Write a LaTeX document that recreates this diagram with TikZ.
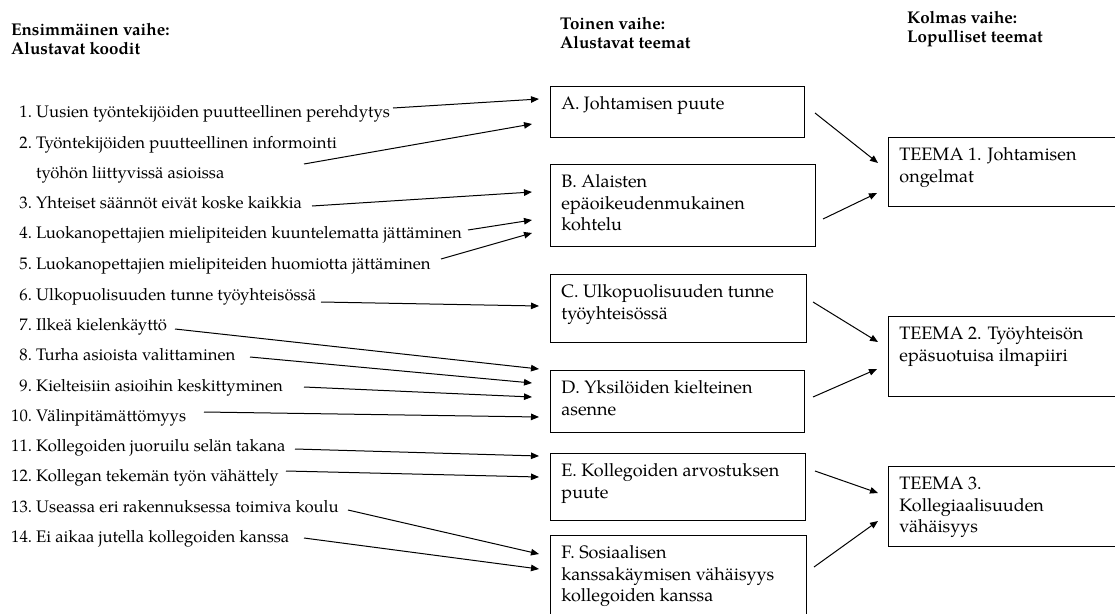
\documentclass[tikz,border=0pt]{standalone}
\usepackage{fontspec}
\setmainfont{TeX Gyre Pagella}
\usetikzlibrary{arrows.meta}
\newcommand\bxt[3]{\parbox[c][#2pt][t]{#1pt}{\raggedright\leftskip=11pt\rule{0pt}{23pt}#3}}
\begin{document}
\begin{tikzpicture}[x=1pt,y=-1pt,
  arr/.style={line width=1pt,-{Triangle[length=8pt,width=6.5pt]}},
  item/.style={anchor=base west,inner sep=0pt,font=\fontsize{16.7}{30}\selectfont},
  head/.style={anchor=base west,inner sep=0pt,font=\bfseries\fontsize{17}{19}\selectfont},
  tbox/.style={draw,line width=0.9pt,anchor=north west,inner sep=0pt,font=\fontsize{18}{21.7}\selectfont}]
\useasboundingbox (0,0) rectangle (1115,613);
\clip (0,0) rectangle (1115,613);
% headings
\node[head] (h1) at (11,35) {\parbox[t]{220pt}{Ensimmäinen vaihe:\\Alustavat koodit}};
\node[head] (h2) at (560,29) {\parbox[t]{220pt}{Toinen vaihe:\\Alustavat teemat}};
\node[head] (h3) at (907,23) {\parbox[t]{200pt}{Kolmas vaihe:\\Lopulliset teemat}};
% items
\node[item] (i1) at (36,117) {\llap{1.\ }Uusien työntekijöiden puutteellinen perehdytys};
\node[item] (i2) at (36,148) {\parbox[t]{400pt}{\fontsize{16.7}{30}\selectfont\leavevmode\llap{2.\ }Työntekijöiden puutteellinen informointi\\työhön liittyvissä asioissa}};
\node[item] (i3) at (36,208) {\llap{3.\ }Yhteiset säännöt eivät koske kaikkia};
\node[item] (i4) at (36,238) {\llap{4.\ }Luokanopettajien mielipiteiden kuuntelematta jättäminen};
\node[item] (i5) at (36,269) {\llap{5.\ }Luokanopettajien mielipiteiden huomiotta jättäminen};
\node[item] (i6) at (36,300) {\llap{6.\ }Ulkopuolisuuden tunne työyhteisössä};
\node[item] (i7) at (36,330) {\llap{7.\ }Ilkeä kielenkäyttö};
\node[item] (i8) at (36,360) {\llap{8.\ }Turha asioista valittaminen};
\node[item] (i9) at (36,391) {\llap{9.\ }Kielteisiin asioihin keskittyminen};
\node[item] (i10) at (36,421) {\llap{10.\ }Välinpitämättömyys};
\node[item] (i11) at (36,451) {\llap{11.\ }Kollegoiden juoruilu selän takana};
\node[item] (i12) at (36,481) {\llap{12.\ }Kollegan tekemän työn vähättely};
\node[item] (i13) at (36,512) {\llap{13.\ }Useassa eri rakennuksessa toimiva koulu};
\node[item] (i14) at (36,542) {\llap{14.\ }Ei aikaa jutella kollegoiden kanssa};
% middle boxes
\node[tbox] (A) at (550,86) {\bxt{254}{51}{A. Johtamisen puute}};
\node[tbox] (B) at (550,164) {\bxt{265}{82}{B. Alaisten\\epäoikeudenmukainen\\kohtelu}};
\node[tbox] (C) at (550,274) {\bxt{256}{68}{C. Ulkopuolisuuden tunne\\työyhteisössä}};
\node[tbox] (D) at (550,370) {\bxt{254}{62}{D. Yksilöiden kielteinen\\asenne}};
\node[tbox] (E) at (550,453) {\bxt{255}{67}{E. Kollegoiden arvostuksen\\puute}};
\node[tbox] (F) at (550,535) {\bxt{256}{100}{F. Sosiaalisen\\kanssakäymisen vähäisyys\\kollegoiden kanssa}};
% final boxes
\node[tbox] (T1) at (888,137) {\bxt{260}{69}{TEEMA 1. Johtamisen\\ongelmat}};
\node[tbox] (T2) at (888,316) {\bxt{260}{80}{TEEMA 2. Työyhteisön\\epäsuotuisa ilmapiiri}};
\node[tbox] (T3) at (888,466) {\bxt{260}{80}{TEEMA 3.\\Kollegiaalisuuden\\vähäisyys}};
% item arrows
\foreach \n/\sx/\sy/\ex/\ey in {1/393/108/539/99, 2/304/164/532/124, 3/312/206/532/192,
  4/468/230/532/220, 5/441/259/532/233, 6/321/302/539/306, 7/175/329/539/369,
  8/250/357/532/383, 9/304/387/532/397, 10/204/412/539/417, 11/295/449/539/456,
  12/286/471/539/477, 13/348/510/539/554, 14/304/538/539/569}{
  \coordinate (s\n) at (\sx,\sy);
  \coordinate (e\n) at (\ex,\ey);
  \draw[arr] (s\n) -- (e\n);
}
% box arrows
\foreach \n/\sx/\sy/\ex/\ey in {A/815/113/878/163, B/823/219/877/193, C/813/302/878/342,
  D/813/397/877/369, E/815/471/878/493, F/814/567/878/521}{
  \coordinate (bs\n) at (\sx,\sy);
  \coordinate (be\n) at (\ex,\ey);
  \draw[arr] (bs\n) -- (be\n);
}
\end{tikzpicture}
\end{document}
